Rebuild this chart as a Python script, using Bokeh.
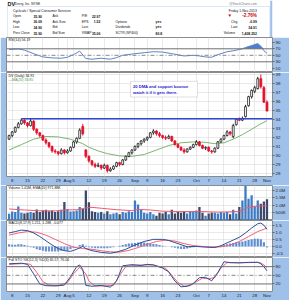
import numpy as np
import pandas as pd
from bokeh.plotting import figure
from bokeh.layouts import column
from bokeh.models import (Range1d, FixedTicker, Grid, BoxAnnotation, ColumnDataSource, Span, Label)
from bokeh.core.properties import value
from bokeh.embed import file_html
from bokeh.resources import INLINE

FONT = value("Liberation Sans")
BLUE_BG = "#9FC0E9"
AX_FS = "4.4px"
LB_FS = "3.5px"

# ---------------- data ----------------
days = [d for d in pd.bdate_range("2013-07-05", "2013-11-01") if d != pd.Timestamp("2013-09-02")]
idx = list(range(len(days)))

opens = [31.8,32.2,32.6,33.1,33.5,33.9,33.6,33.3,33.8,32.9,
         32.5,32.2,31.7,31.4,31.0,30.5,30.4,30.2,30.6,30.3,
         30.5,30.9,31.5,31.9,33.2,30.6,29.9,29.4,29.0,28.8,
         28.9,28.6,28.9,28.3,28.5,28.8,29.2,29.0,29.5,29.9,
         30.3,30.6,31.0,31.3,31.6,31.8,32.0,32.5,32.7,32.4,
         32.2,32.0,31.9,32.1,31.6,31.2,30.9,30.6,30.4,30.7,
         30.9,31.2,31.5,31.1,30.8,30.9,30.5,30.4,30.8,31.5,
         31.8,32.2,32.6,32.1,33.4,34.0,33.9,34.3,35.5,36.5,
         37.1,37.4,38.5,37.5,35.90]
highs = [32.3,32.7,33.2,33.7,34.1,34.0,33.7,34.1,33.9,33.0,
         32.6,32.3,31.9,31.5,31.1,30.7,30.5,30.8,30.7,30.7,
         31.0,31.6,32.0,33.0,33.5,30.7,30.0,29.5,29.2,29.2,
         29.0,29.1,29.0,28.7,28.9,29.3,29.3,29.6,30.0,30.4,
         30.7,31.1,31.4,31.7,31.9,32.1,32.6,32.9,32.8,32.6,
         32.3,32.2,32.3,32.2,31.7,31.3,31.0,30.8,30.8,31.0,
         31.3,31.7,31.6,31.2,31.0,31.0,30.6,30.9,31.6,31.9,
         32.3,32.8,32.7,33.5,34.1,34.2,34.3,35.6,36.6,37.3,
         37.7,38.7,38.95,37.7,36.09]
lows = [31.7,32.0,32.5,33.0,33.4,33.4,33.1,33.2,32.7,32.3,
        32.0,31.6,31.2,30.8,30.3,30.2,30.0,30.1,30.1,30.2,
        30.4,30.8,31.3,31.8,32.2,29.7,29.2,28.8,28.6,28.7,
        28.4,28.5,28.1,28.2,28.4,28.7,28.8,28.9,29.4,29.8,
        30.1,30.5,30.8,31.1,31.4,31.6,31.9,32.3,32.2,32.0,
        31.8,31.7,31.8,31.5,31.1,30.8,30.5,30.2,30.3,30.6,
        30.8,31.1,31.0,30.7,30.6,30.4,30.2,30.3,30.7,31.4,
        31.7,32.1,32.2,31.9,33.3,33.8,33.8,34.2,35.4,36.3,
        36.9,37.3,37.4,35.8,34.90]
closes = [32.2,32.6,33.1,33.5,33.9,33.6,33.3,33.8,32.9,32.5,
          32.2,31.7,31.4,31.0,30.5,30.4,30.2,30.6,30.3,30.5,
          30.9,31.5,31.9,32.8,32.4,29.9,29.4,29.0,28.8,28.9,
          28.6,28.9,28.3,28.5,28.8,29.2,29.0,29.5,29.9,30.3,
          30.6,31.0,31.3,31.6,31.8,32.0,32.5,32.7,32.4,32.2,
          32.0,31.9,32.1,31.6,31.2,30.9,30.6,30.4,30.7,30.9,
          31.2,31.5,31.1,30.8,30.9,30.5,30.4,30.8,31.5,31.8,
          32.2,32.6,32.4,33.3,34.0,33.9,34.1,35.4,36.5,37.2,
          37.5,38.5,37.6,35.90,34.91]
volumes_m = [0.42,0.58,0.55,0.92,0.50,0.45,0.50,0.55,0.50,0.72,
             0.55,0.65,0.70,0.60,0.65,0.55,0.60,0.70,1.22,0.75,
             0.58,0.60,0.65,0.88,0.75,2.00,1.20,0.60,0.55,0.50,
             0.55,0.45,0.60,0.40,0.45,0.50,0.40,0.55,0.50,0.60,
             0.55,1.33,1.05,0.70,0.50,0.45,0.55,0.40,0.30,0.50,
             0.45,0.55,0.40,0.70,0.45,0.55,0.50,0.60,0.45,0.60,
             0.55,0.65,0.88,0.50,0.30,0.45,0.50,0.50,0.45,0.55,
             0.50,0.55,0.40,0.70,0.45,0.88,1.33,2.30,1.45,1.68,
             0.90,1.33,1.10,1.25,1.41]

ma_x = [0,4,8,12,16,20,24,26,29,32,36,40,44,48,52,56,60,64,67,70,73,76,79,82,84]
ma_y = [30.6,31.2,31.8,32.1,32.05,31.8,31.3,30.9,30.5,30.2,29.95,29.9,30.1,30.6,31.1,
        31.4,31.5,31.45,31.3,31.4,31.8,32.3,32.9,33.5,33.85]

vema_x = [0,5,10,15,18,22,25,27,30,35,40,42,46,50,56,62,68,73,75,76,77,79,81,84]
vema_y = [0.75,0.68,0.63,0.62,0.68,0.70,0.82,0.86,0.80,0.70,0.64,0.72,0.68,0.60,0.57,
          0.58,0.54,0.56,0.60,0.66,0.80,0.90,0.95,0.97]

rsi_x = [0,3,5,8,11,14,17,19,21,23,25,27,30,33,35,37,41,44,47,50,53,57,60,62,64,66,68,71,
         73,75,76,77,79,81,82,83,84]
rsi_y = [68,69.5,66,55,45,42,41,44,52,63,40,38,41,38,43,50,55,58,61,60,55,48,50,48,45,44,52,61,
         64,68,70,74,80,86,78,64,56.19]

macd_x = [0,2,4,6,8,10,12,14,16,18,20,22,24,25,27,30,33,35,38,41,44,47,50,52,55,58,61,64,67,69,
          71,73,75,77,79,81,82,83,84]
macd_y = [0.95,1.05,1.15,1.12,0.95,0.7,0.4,0.1,-0.15,-0.3,-0.35,-0.2,0.0,-0.15,-0.3,-0.42,-0.48,
          -0.4,-0.2,0.1,0.35,0.5,0.5,0.42,0.2,-0.02,0.0,-0.05,-0.08,0.05,0.25,0.45,0.65,0.95,1.3,
          1.6,1.65,1.5,1.21]
signal_x = [0,3,6,9,12,15,18,21,24,27,30,33,36,39,42,45,48,51,54,57,60,63,66,69,72,75,78,81,84]
signal_y = [0.8,0.95,1.05,1.0,0.8,0.5,0.2,-0.05,-0.15,-0.2,-0.3,-0.38,-0.4,-0.28,-0.08,0.15,0.35,
            0.45,0.38,0.2,0.06,0.0,-0.04,-0.03,0.1,0.35,0.7,1.05,1.29]
hist = [0.15,0.12,0.12,0.15,0.15, 0.1,0.05,-0.05,-0.1,-0.2, -0.25,-0.3,-0.35,-0.35,-0.35,
        -0.35,-0.35,-0.3,-0.3,-0.3, -0.2,-0.1,0.0,0.1,0.15, 0.05,-0.05,-0.1,-0.12,-0.12,
        -0.12,-0.12,-0.12,-0.1,-0.05, 0.0,0.05,0.1,0.15,0.2, 0.22,0.25,0.28,0.3,0.28,
        0.25,0.2,0.18,0.15,0.1, 0.05,0.02,0.0,-0.05,-0.1, -0.15,-0.18,-0.18,-0.15,-0.1,
        -0.06,-0.02,0.0,0.0,-0.02, -0.03,-0.04,-0.04,0.0,0.05, 0.1,0.15,0.2,0.25,0.3,
        0.32,0.35,0.4,0.45,0.5, 0.55,0.55,0.5,0.3,-0.077]

k_x = [0,4,6,8,10,12,15,18,20,22,23,24,25,27,30,33,35,37,40,43,45,47,50,52,54,56,58,60,62,64,
       66,68,70,72,75,78,81,82,83,84]
k_y = [90,92,88,55,20,14,13,16,45,80,86,70,15,12,15,9,30,83,87,84,88,86,75,62,30,10,12,22,42,43,
       31,60,97,94,93,95,95,90,80,65.57]
d_x = [0,5,7,9,11,13,16,19,21,23,25,26,28,31,34,36,38,41,44,47,51,53,55,57,59,61,63,65,67,69,
       71,74,78,81,82,83,84]
d_y = [88,91,88,60,28,16,14,25,55,78,55,30,13,13,15,50,80,85,86,86,74,50,25,12,14,28,40,38,42,75,
       94,94,94,95,93,86,76.06]

support_level = 34.05
support_start = 4

tick_idx = [1,6,11,16,19,21,26,31,36,41,45,50,55,61,65,70,75,80,84]
tick_lbl = ["8","15","22","29","Aug","5","12","19","26","Sep","9","16","23","Oct","7","14","21","28","Nov"]

note_lines = ["20 DMA and support bounce", "watch it if it gets there."]

# ---------------- layout helpers ----------------
X0, X1 = -0.85, 85.8
xr = Range1d(X0, X1)
XPX0, XPX1 = 6, 272

def xpx(px):
    return X0 + (px - XPX0) * (X1 - X0) / (XPX1 - XPX0)

def panel(h, lo, hi, yt, ylab=None, xaxis=False):
    p = figure(width=289, height=h, x_range=xr, y_range=Range1d(lo, hi),
               output_backend="svg", toolbar_location=None,
               x_axis_location="below" if xaxis else None, y_axis_location="right",
               min_border_left=6, min_border_right=17, min_border_top=0,
               min_border_bottom=7 if xaxis else 0)
    p.background_fill_color = "white"
    p.border_fill_color = BLUE_BG
    p.outline_line_color = "#8A8A8A"
    p.outline_line_width = 1
    ya = p.yaxis[0]
    ya.ticker = FixedTicker(ticks=yt)
    if ylab:
        ya.major_label_overrides = ylab
    ya.axis_line_color = None
    ya.major_tick_out = 2
    ya.major_tick_in = 0
    ya.major_tick_line_color = "#666666"
    ya.minor_tick_line_color = None
    ya.major_label_standoff = 1
    ya.major_label_text_font = "Liberation Sans"
    ya.major_label_text_font_size = AX_FS
    ya.major_label_text_color = "#222222"
    p.ygrid.ticker = FixedTicker(ticks=yt)
    p.ygrid.grid_line_color = "#D2D2D2"
    p.ygrid.grid_line_dash = "1 1"
    if len(p.xgrid) == 0:
        p.add_layout(Grid(dimension=0, ticker=FixedTicker(ticks=tick_idx),
                          grid_line_color="#D2D2D2", grid_line_dash="1 1"))
    else:
        p.xgrid.ticker = FixedTicker(ticks=tick_idx)
        p.xgrid.grid_line_color = "#D2D2D2"
        p.xgrid.grid_line_dash = "1 1"
    if xaxis:
        xa = p.xaxis[0]
        xa.ticker = FixedTicker(ticks=tick_idx)
        xa.major_label_overrides = {t: l for t, l in zip(tick_idx, tick_lbl)}
        xa.axis_line_color = None
        xa.major_tick_out = 0
        xa.major_tick_in = 0
        xa.major_tick_line_color = None
        xa.minor_tick_line_color = None
        xa.major_label_standoff = 1
        xa.major_label_text_font = "Liberation Sans"
        xa.major_label_text_font_size = AX_FS
        xa.major_label_text_color = "#222222"
    return p

def ypx(top, bot, lo, hi, px):
    return hi - (px - top) * (hi - lo) / (bot - top)

def label(p, top, bot, lo, hi, px_y, text, color="#111111", px_x=8, size=LB_FS, bold=False):
    p.text(x=[xpx(px_x)], y=[ypx(top, bot, lo, hi, px_y)], text=[text],
           text_font=FONT, text_font_size=size, text_color=color,
           text_baseline="middle", text_align="left",
           text_font_style="bold" if bold else "normal")

# ---------------- header ----------------
hdr = figure(width=289, height=37, x_range=Range1d(0, 289), y_range=Range1d(37, 0),
             output_backend="svg", toolbar_location=None,
             x_axis_location=None, y_axis_location=None,
             min_border_left=0, min_border_right=0, min_border_top=0, min_border_bottom=0)
hdr.outline_line_color = None
hdr.grid.visible = False
hdr.background_fill_color = "white"
hdr.border_fill_color = "white"
hdr.add_layout(BoxAnnotation(left=286.5, right=289, top=0, bottom=37, fill_color=BLUE_BG,
                             fill_alpha=1, line_color=None))
hdr.add_layout(BoxAnnotation(left=1, right=286, top=6, bottom=37, fill_alpha=0,
                             line_color="#8DB0DD", line_width=1))

HF = "3.4px"

def htext(x, y, t, size=HF, bold=False, align="left", color="#111111"):
    hdr.text(x=[x], y=[y], text=[t], text_font=FONT, text_font_size=size,
             text_font_style="bold" if bold else "normal", text_align=align,
             text_baseline="middle", text_color=color)

htext(1, 3.2, "DV", size="5.5px", bold=True)
htext(9, 3.4, "Devry, Inc.  NYSE", size="3.3px")
htext(272, 2.8, "@StockCharts.com", size="3.2px", align="right", color="#777777")
htext(7, 10, "Cyclicals / Special Consumer Services")
htext(272, 10, "Friday 1-Nov-2013", align="right")

rows_y = [15.5, 21, 26.5, 32.5]
col1 = ["Open", "High", "Low", "Prev Close"]
val1 = ["35.90", "36.09", "34.90", "35.90"]
col2 = ["Ask", "Ask Size", "Bid", "Bid Size"]
col3 = ["P/E", "EPS", "Last", "VWAP"]
val3 = ["22.97", "1.52", "", "35.06"]
col4 = ["", "Options", "Dividends", "SCTR (SP400)"]
val4 = ["", "yes", "yes", "80.8"]
for y, a, b, c, d, e, f, g in zip(rows_y, col1, val1, col2, col3, val3, col4, val4):
    htext(7, y, a)
    htext(38.5, y, b, bold=True, align="right")
    htext(50, y, c)
    htext(81.7, y, d)
    if e:
        htext(102, y, e, bold=True, align="right")
    if f:
        htext(118.3, y, f)
    if g:
        htext(162, y, g, bold=True)

htext(240, 15.3, "\u25BC", size="4.5px", color="#CC0000")
htext(272, 15.3, "-2.76%", size="4.6px", bold=True, align="right", color="#CC0000")
htext(244, 21, "Chg")
htext(272, 21, "-0.99", bold=True, align="right")
htext(244, 26.5, "Last")
htext(272, 26.5, "34.91", bold=True, align="right")
htext(236, 32.5, "Volume")
htext(272, 32.5, "1,408,252", bold=True, align="right")

# ---------------- RSI ----------------
R_T, R_B, R_LO, R_HI = 37, 72, -2.9, 104.8
rsi = panel(35, R_LO, R_HI, [10, 30, 50, 70, 90])
rsi.ygrid.visible = False
rsi.varea(x=rsi_x, y1=[70] * len(rsi_x), y2=list(np.maximum(np.array(rsi_y), 70)),
          fill_color="#4F7FCB", fill_alpha=1)
for lv in (70, 30):
    rsi.add_layout(Span(location=lv, dimension="width", line_color="#6E6E6E", line_width=1))
rsi.add_layout(Span(location=50, dimension="width", line_color="#888888", line_width=1,
                    line_dash="4 2 1 2"))
rsi.line(rsi_x, rsi_y, line_color="#5D86C5", line_width=1)
label(rsi, R_T, R_B, R_LO, R_HI, 39.5, "RSI(14) 56.19")

# ---------------- Price ----------------
P_T, P_B, P_LO, P_HI = 72, 178, 27.67, 39.18
pr = panel(113, P_LO, P_HI, list(range(28, 40)), xaxis=True)
o = np.array(opens); c = np.array(closes)
up = c >= o
src = ColumnDataSource(dict(
    x=idx, h=highs, l=lows,
    top=list(np.maximum(o, c)), bot=list(np.minimum(o, c)),
    fill=["white" if u else "#E3122C" for u in up],
    line=["#222222" if u else "#E3122C" for u in up]))
pr.line(ma_x, ma_y, line_color="#7DB56E", line_width=1)
pr.segment(x0="x", y0="l", x1="x", y1="h", line_color="line", line_width=1, source=src)
pr.vbar(x="x", width=0.62, top="top", bottom="bot", fill_color="fill", line_color="line",
        line_width=0.8, source=src)
pr.segment(x0=[support_start], y0=[support_level], x1=[X1], y1=[support_level],
           line_color="#2F45D6", line_width=1.5)
pr.add_layout(BoxAnnotation(left=xpx(130), right=xpx(197),
                            top=ypx(P_T, P_B, P_LO, P_HI, 81), bottom=ypx(P_T, P_B, P_LO, P_HI, 97),
                            fill_color="white", fill_alpha=1, line_color="#9A9A9A", line_width=1))
for ln, py in zip(note_lines, (85.8, 92.2)):
    pr.add_layout(Label(x=xpx(132.5), y=ypx(P_T, P_B, P_LO, P_HI, py), text=ln,
                        text_font="Liberation Sans", text_font_size="4.1px",
                        text_font_style="bold", text_color="#1A1AD0",
                        text_baseline="middle", text_align="left"))
label(pr, P_T, P_B, P_LO, P_HI, 75.3, "DV (Daily) 34.91")
label(pr, P_T, P_B, P_LO, P_HI, 79.3, "\u2014MA(20) 33.85", color="#4E9A43")

# ---------------- Volume ----------------
V_T, V_B, V_LO, V_HI = 185, 220, -0.03, 2.34
vol = panel(35, V_LO, V_HI, [0.5, 1.0, 1.5, 2.0],
            ylab={0.5: "500K", 1.0: "1.0M", 1.5: "1.5M", 2.0: "2.0M"})
prev = np.array([closes[0]] + closes[:-1])
vcol = ["#3E7BC2" if (ci >= pi) else "#3D4A6B" for ci, pi in zip(closes, prev)]
vol.vbar(x=idx, width=0.75, top=volumes_m, bottom=0, fill_color=vcol, line_color=None)
vol.line(vema_x, vema_y, line_color="#EE5A70", line_width=1)
label(vol, V_T, V_B, V_LO, V_HI, 187.8, "Volume 1.41M, EMA(20) 971.88K")

# ---------------- MACD ----------------
M_T, M_B, M_LO, M_HI = 220, 257, -0.78, 1.83
mac = panel(37, M_LO, M_HI, [-0.5, 0.0, 0.5, 1.0, 1.5],
            ylab={-0.5: "-0.5", 0.0: "0.0", 0.5: "0.5", 1.0: "1.0", 1.5: "1.5"})
hcol = ["#5A8ED0" if hv >= 0 else "#6B93CF" for hv in hist]
mac.vbar(x=idx, width=0.7, top=hist, bottom=0, fill_color=hcol, line_color=None)
mac.line(signal_x, signal_y, line_color="#F2617A", line_width=1)
mac.line(macd_x, macd_y, line_color="#2F4E96", line_width=1)
label(mac, M_T, M_B, M_LO, M_HI, 222.5, "MACD(8,17,9) 1.211, 1.288, -0.077")

# ---------------- Full STO ----------------
S_T, S_B, S_LO, S_HI = 257, 293, -6.2, 111.8
sto = panel(43, S_LO, S_HI, [20, 50, 80], xaxis=True)
sto.ygrid.visible = False
for lv in (80, 20):
    sto.add_layout(Span(location=lv, dimension="width", line_color="#6E6E6E", line_width=1))
sto.add_layout(Span(location=50, dimension="width", line_color="#888888", line_width=1,
                    line_dash="4 2 1 2"))
sto.line(d_x, d_y, line_color="#F2617A", line_width=1)
sto.line(k_x, k_y, line_color="#2F4E96", line_width=1)
label(sto, S_T, S_B, S_LO, S_HI, 259.5, "Full STO %K(12,3) %D(3) 65.57, 76.06")

layout = column(hdr, rsi, pr, vol, mac, sto, spacing=0)
open("out.html", "w").write(file_html(layout, INLINE))
